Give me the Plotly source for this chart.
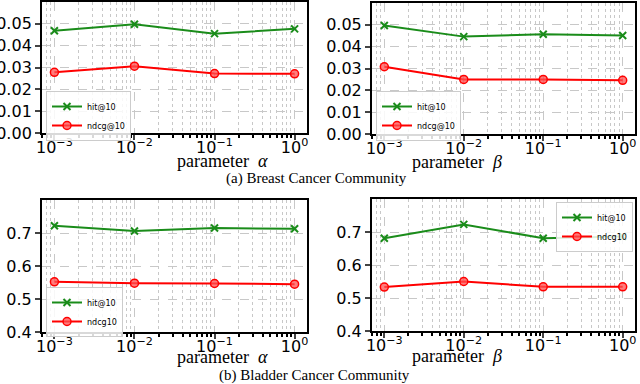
import plotly.graph_objects as go

param_x = [0.001, 0.01, 0.1, 1]
tick_vals = [0.001, 0.01, 0.1, 1]
tick_text = ['10<sup>−3</sup>', '10<sup>−2</sup>', '10<sup>−1</sup>', '10<sup>0</sup>']

breast_alpha_hit = [0.0468, 0.0498, 0.0455, 0.0477]
breast_alpha_ndcg = [0.0278, 0.0306, 0.0272, 0.0271]
breast_beta_hit = [0.0497, 0.0446, 0.0457, 0.0451]
breast_beta_ndcg = [0.0308, 0.0250, 0.0250, 0.0246]
bladder_alpha_hit = [0.722, 0.706, 0.715, 0.713]
bladder_alpha_ndcg = [0.552, 0.548, 0.547, 0.545]
bladder_beta_hit = [0.681, 0.723, 0.681, 0.686]
bladder_beta_ndcg = [0.533, 0.550, 0.534, 0.534]

breast_y_ticks = [0.00, 0.01, 0.02, 0.03, 0.04, 0.05]
bladder_y_ticks = [0.4, 0.5, 0.6, 0.7]

minor_vals = [m * 10.0 ** e for e in range(-4, 1) for m in range(2, 10)]

W, H = 640, 384
grid_col = '#c8c8c8'

fig = go.Figure()

panels = [
    # (x domain px, y domain px, hit, ndcg, names, yrange, yticks, fmt, legend, greek, title gap)
    ((42, 307), (2, 133), breast_alpha_hit, breast_alpha_ndcg, ('hit@10', 'ndcg@10'),
     [0, 0.06], breast_y_ticks, '.2f', dict(x=46, y=91, xanchor='left'), 'α', 28),
    ((372, 635), (3, 134), breast_beta_hit, breast_beta_ndcg, ('hit@10', 'ndcg@10'),
     [0, 0.06], breast_y_ticks, '.2f', dict(x=376, y=91, xanchor='left'), 'β', 28),
    ((42, 307), (200, 332), bladder_alpha_hit, bladder_alpha_ndcg, ('hit@10', 'ndcg10'),
     [0.4, 0.8], bladder_y_ticks, '.1f', dict(x=46, y=287, xanchor='left'), 'α', 25),
    ((372, 635), (199, 331), bladder_beta_hit, bladder_beta_ndcg, ('hit@10', 'ndcg10'),
     [0.4, 0.8], bladder_y_ticks, '.1f', dict(x=633, y=202, xanchor='right'), 'β', 25),
]

layout = {}
for i, (xd, yd, hit, ndcg, names, yr, yt, fmt, leg, greek, gap) in enumerate(panels):
    n = '' if i == 0 else str(i + 1)
    xa, ya = 'x' + n, 'y' + n
    lg = 'legend' + n
    fig.add_trace(go.Scatter(x=param_x, y=hit, name=names[0], xaxis=xa, yaxis=ya, legend=lg,
                             mode='lines+markers',
                             line=dict(color='#1a8c1a', width=2),
                             marker=dict(symbol='x-thin', size=7, line=dict(color='#1a8c1a', width=2))))
    fig.add_trace(go.Scatter(x=param_x, y=ndcg, name=names[1], xaxis=xa, yaxis=ya, legend=lg,
                             mode='lines+markers',
                             line=dict(color='#ff0000', width=2),
                             marker=dict(symbol='circle', size=8, color='rgba(255,80,80,0.75)',
                                         line=dict(color='#ff0000', width=1.5))))
    layout['xaxis' + n] = dict(
        type='log', domain=[xd[0] / W, xd[1] / W], range=[-3.155, 0.155], anchor=ya,
        automargin=False, ticklabelstandoff=-6,
        tickvals=tick_vals, ticktext=tick_text, ticks='outside', ticklen=5, tickwidth=1.5,
        tickfont=dict(family='DejaVu Sans', size=16, color='black'),
        showline=True, linecolor='black', linewidth=2, mirror=True,
        showgrid=True, gridcolor=grid_col, griddash='dash', gridwidth=1,
        minor=dict(tickvals=minor_vals, ticks='outside', ticklen=3, tickcolor='black',
                   showgrid=True, gridcolor=grid_col, griddash='dot', gridwidth=1),
        zeroline=False)
    layout['yaxis' + n] = dict(
        domain=[1 - yd[1] / H, 1 - yd[0] / H], range=yr, anchor=xa, automargin=False,
        tickvals=yt, tickformat=fmt, ticks='outside', ticklen=5, tickwidth=1.5,
        tickfont=dict(family='DejaVu Sans', size=16, color='black'),
        showline=True, linecolor='black', linewidth=2, mirror=True,
        showgrid=True, gridcolor=grid_col, griddash='dash', gridwidth=1, zeroline=False)
    layout[lg] = dict(x=leg['x'] / W, y=1 - leg['y'] / H, xanchor=leg['xanchor'], yanchor='top',
                      bgcolor='rgba(255,255,255,0.85)', bordercolor='#cccccc', borderwidth=1,
                      font=dict(family='DejaVu Sans', size=8, color='black'),
                      itemwidth=30, tracegroupgap=0)
    fig.add_annotation(x=(xd[0] + xd[1]) / 2 / W, y=1 - (yd[1] + gap) / H, xref='paper', yref='paper',
                       text='parameter  <i>' + greek + '</i>', showarrow=False, yanchor='middle',
                       font=dict(family='Liberation Serif', size=18, color='black'))

fig.add_annotation(x=316 / W, y=1 - 179 / H, xref='paper', yref='paper', showarrow=False,
                   text='(a) Breast Cancer Community', yanchor='middle',
                   font=dict(family='Liberation Serif', size=15, color='black'))
fig.add_annotation(x=314 / W, y=1 - 375 / H, xref='paper', yref='paper', showarrow=False,
                   text='(b) Bladder Cancer Community', yanchor='middle',
                   font=dict(family='Liberation Serif', size=15, color='black'))

fig.update_layout(width=W, height=H, margin=dict(l=0, r=0, t=0, b=0, autoexpand=False),
                  paper_bgcolor='white', plot_bgcolor='white', showlegend=True, **layout)

fig.write_html("out.html", config={'displayModeBar': False},
               post_script="document.body.style.margin = '0';")
